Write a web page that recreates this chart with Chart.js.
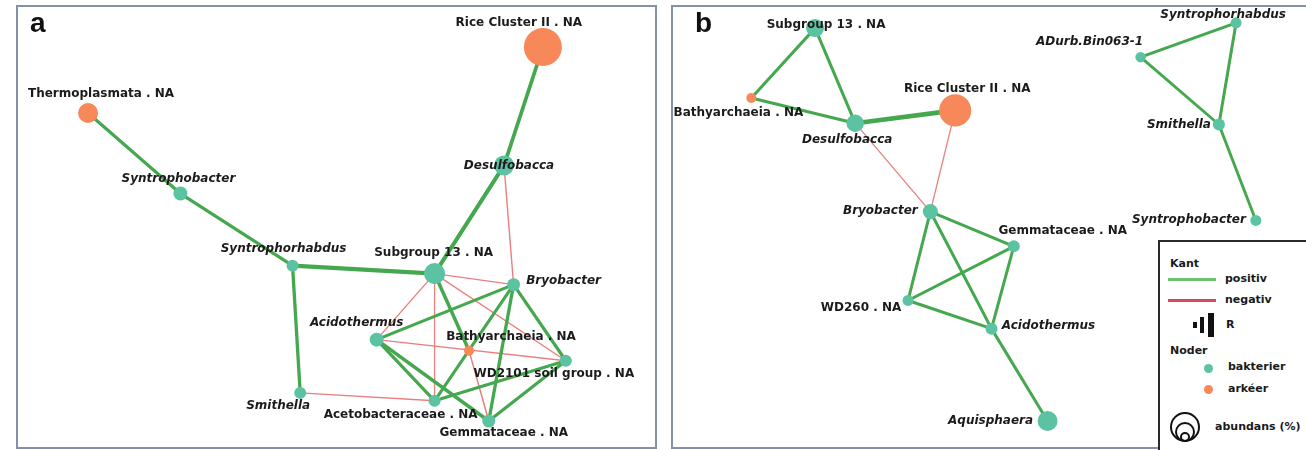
<!DOCTYPE html>
<html lang="sv">
<head>
<meta charset="utf-8">
<title>Samförekomstnätverk</title>
<script src="https://cdn.jsdelivr.net/npm/chart.js@4.4.1/dist/chart.umd.min.js"></script>
<style>
  html, body { margin:0; padding:0; background:#fff; }
  body { width:1306px; height:450px; position:relative; overflow:hidden; font-family:"DejaVu Sans", sans-serif; color:#151515; }
  .panel { position:absolute; top:5px; height:444px; box-sizing:border-box; border:2px solid #8591a8; background:#fff; }
  #panelA { left:16px; width:641px; }
  #panelB { left:671px; width:641px; }
  .plot { position:absolute; left:0; top:0; right:0; bottom:0; }
  .tag { position:absolute; top:2px; font:bold 28px/28px "Liberation Sans", Arial, sans-serif; color:#111; z-index:2; }
  #legend { position:absolute; left:1158px; top:240px; width:170px; height:220px; box-sizing:border-box; border:2px solid #2a2a2a; background:#fff; z-index:3; }
  #legend div { position:absolute; }
  #legend .txt { font-size:11px; font-weight:bold; line-height:14px; white-space:nowrap; color:#1a1a1a; }
  #legend .bar { background:#111; }
  #legend .ring { border:2.5px solid #111; border-radius:50%; box-sizing:border-box; }
  #legend .dot { border-radius:50%; }
</style>
</head>
<body>
<div class="panel" id="panelA">
  <div class="tag" style="left:12px">a</div>
  <div class="plot"><canvas id="netA"></canvas></div>
</div>
<div class="panel" id="panelB">
  <div class="tag" style="left:22px">b</div>
  <div class="plot"><canvas id="netB"></canvas></div>
</div>

<div id="legend">
  <div class="txt" style="left:10px;top:15px">Kant</div>
  <div style="left:8px;top:36px;width:48px;height:3px;background:#6cc06e"></div>
  <div class="txt" style="left:65px;top:30px">positiv</div>
  <div style="left:8px;top:57px;width:48px;height:3px;background:#d84a5a"></div>
  <div class="txt" style="left:65px;top:51px">negativ</div>
  <div class="bar" style="left:33px;top:80px;width:4px;height:6px"></div>
  <div class="bar" style="left:40px;top:75px;width:4px;height:16px"></div>
  <div class="bar" style="left:48px;top:71px;width:6px;height:24px"></div>
  <div class="txt" style="left:66px;top:76px">R</div>
  <div class="txt" style="left:10px;top:102px">Noder</div>
  <div class="dot" style="left:44px;top:122px;width:9px;height:9px;background:#5bc2a2"></div>
  <div class="txt" style="left:68px;top:118px">bakterier</div>
  <div class="dot" style="left:44px;top:143px;width:9px;height:9px;background:#f7885a"></div>
  <div class="txt" style="left:68px;top:140px">arkéer</div>
  <div class="ring" style="left:10px;top:170px;width:30px;height:30px"></div>
  <div class="ring" style="left:15px;top:180px;width:20px;height:20px"></div>
  <div class="ring" style="left:20px;top:190px;width:10px;height:10px"></div>
  <div class="txt" style="left:55px;top:178px">abundans (%)</div>
</div>

<script>
// ---------- Nätverk a ----------
const taxaA = ['Thermoplasmata . NA', 'Syntrophobacter', 'Syntrophorhabdus', 'Smithella',
  'Rice Cluster II . NA', 'Desulfobacca', 'Subgroup 13 . NA', 'Bryobacter', 'Acidothermus',
  'Bathyarchaeia . NA', 'WD2101 soil group . NA', 'Acetobacteraceae . NA', 'Gemmataceae . NA'];
const domainA = ['arkéer', 'bakterier', 'bakterier', 'bakterier', 'arkéer', 'bakterier', 'bakterier',
  'bakterier', 'bakterier', 'arkéer', 'bakterier', 'bakterier', 'bakterier'];
// layout coordinates (0–100) from the force-directed layout
const layoutXA = [11.0, 25.5, 43.1, 44.3, 82.4, 76.3, 65.4, 77.8, 56.3, 70.8, 86.0, 65.4, 73.9];
const layoutYA = [24.1, 42.4, 58.8, 87.7, 9.1, 36.0, 60.6, 63.1, 75.6, 78.1, 80.4, 89.5, 94.1];
const abundanceA = [1.44, 0.36, 0.16, 0.16, 9.0, 1.44, 1.7, 0.25, 0.36, 0.04, 0.16, 0.16, 0.25];
const edgeFromA = ['Thermoplasmata . NA', 'Syntrophobacter', 'Syntrophorhabdus', 'Syntrophorhabdus',
  'Rice Cluster II . NA', 'Desulfobacca', 'Subgroup 13 . NA', 'Bryobacter', 'Bryobacter', 'Bryobacter',
  'Bryobacter', 'Acidothermus', 'Acidothermus', 'Acetobacteraceae . NA', 'Gemmataceae . NA',
  'Desulfobacca', 'Subgroup 13 . NA', 'Subgroup 13 . NA', 'Subgroup 13 . NA', 'Subgroup 13 . NA',
  'Acidothermus', 'Bathyarchaeia . NA', 'Smithella'];
const edgeToA = ['Syntrophobacter', 'Syntrophorhabdus', 'Subgroup 13 . NA', 'Smithella',
  'Desulfobacca', 'Subgroup 13 . NA', 'Bathyarchaeia . NA', 'Acidothermus', 'WD2101 soil group . NA',
  'Gemmataceae . NA', 'Acetobacteraceae . NA', 'Acetobacteraceae . NA', 'Gemmataceae . NA',
  'WD2101 soil group . NA', 'WD2101 soil group . NA',
  'Bryobacter', 'Bryobacter', 'Acidothermus', 'Acetobacteraceae . NA', 'WD2101 soil group . NA',
  'WD2101 soil group . NA', 'Gemmataceae . NA', 'Acetobacteraceae . NA'];
const edgeRA = [0.80, 0.80, 0.90, 0.81, 0.85, 0.88, 0.84, 0.80, 0.80, 0.81, 0.79, 0.80, 0.83, 0.79, 0.80,
  -0.62, -0.61, -0.62, -0.61, -0.62, -0.61, -0.63, -0.62];

// ---------- Nätverk b ----------
const taxaB = ['Subgroup 13 . NA', 'Bathyarchaeia . NA', 'Desulfobacca', 'Rice Cluster II . NA',
  'Bryobacter', 'Gemmataceae . NA', 'WD260 . NA', 'Acidothermus', 'Aquisphaera',
  'ADurb.Bin063-1', 'Syntrophorhabdus', 'Smithella', 'Syntrophobacter'];
const domainB = ['bakterier', 'arkéer', 'bakterier', 'arkéer', 'bakterier', 'bakterier', 'bakterier',
  'bakterier', 'bakterier', 'bakterier', 'bakterier', 'bakterier', 'bakterier'];
const layoutXB = [22.3, 12.3, 28.6, 44.3, 40.4, 53.5, 36.9, 50.0, 58.8, 73.4, 88.4, 85.7, 91.5];
const layoutYB = [4.8, 20.7, 26.4, 23.5, 46.5, 54.4, 66.7, 73.1, 94.1, 11.4, 3.6, 26.7, 48.5];
const abundanceB = [1.0, 0.04, 0.9, 5.8, 0.5, 0.16, 0.09, 0.16, 1.44, 0.06, 0.09, 0.16, 0.09];
const edgeFromB = ['Subgroup 13 . NA', 'Subgroup 13 . NA', 'Bathyarchaeia . NA', 'Desulfobacca',
  'Bryobacter', 'Bryobacter', 'Bryobacter', 'WD260 . NA', 'WD260 . NA', 'Gemmataceae . NA',
  'Acidothermus', 'ADurb.Bin063-1', 'ADurb.Bin063-1', 'Syntrophorhabdus', 'Smithella',
  'Desulfobacca', 'Rice Cluster II . NA'];
const edgeToB = ['Bathyarchaeia . NA', 'Desulfobacca', 'Desulfobacca', 'Rice Cluster II . NA',
  'WD260 . NA', 'Gemmataceae . NA', 'Acidothermus', 'Gemmataceae . NA', 'Acidothermus', 'Acidothermus',
  'Aquisphaera', 'Syntrophorhabdus', 'Smithella', 'Smithella', 'Syntrophobacter',
  'Bryobacter', 'Bryobacter'];
const edgeRB = [0.78, 0.78, 0.79, 0.94, 0.78, 0.78, 0.79, 0.78, 0.79, 0.78, 0.78, 0.78, 0.77, 0.78, 0.77,
  -0.61, -0.61];

// ---------- label placement (pixel offsets from node centre) ----------
const labelOffsetsA = {
  'Thermoplasmata . NA': [13, -19], 'Syntrophobacter': [-2, -15], 'Syntrophorhabdus': [-9, -17],
  'Smithella': [-22, 13], 'Rice Cluster II . NA': [-24, -24], 'Desulfobacca': [5, 0],
  'Subgroup 13 . NA': [-1, -21], 'Bryobacter': [50, -4], 'Acidothermus': [-20, -17],
  'Bathyarchaeia . NA': [42, -14], 'WD2101 soil group . NA': [-12, 13],
  'Acetobacteraceae . NA': [-34, 14], 'Gemmataceae . NA': [15, 12]
};
const labelOffsetsB = {
  'Subgroup 13 . NA': [11, -3], 'Bathyarchaeia . NA': [-13, 15], 'Desulfobacca': [-8, 17],
  'Rice Cluster II . NA': [12, -22], 'Bryobacter': [-50, -1], 'Gemmataceae . NA': [49, -15],
  'WD260 . NA': [-47, 7], 'Acidothermus': [57, -3], 'Aquisphaera': [-57, 0],
  'ADurb.Bin063-1': [-51, -15], 'Syntrophorhabdus': [-13, -8], 'Smithella': [-40, 0],
  'Syntrophobacter': [-67, -1]
};

const COLORS = { 'bakterier': '#5bc2a2', 'arkéer': '#f7885a' };
const POS_EDGE = '#45a84f';
const NEG_EDGE = '#e8807f';
const nodeRadius = a => 4 + 5 * Math.sqrt(a);
const edgeWidth = r => 1.2 + (Math.abs(r) - 0.6) * 10;

// draws taxon names next to their nodes
const nodeLabels = {
  id: 'nodeLabels',
  afterDatasetsDraw(chart, args, opts) {
    const { ctx, scales: { x, y } } = chart;
    const nodes = chart.data.datasets[0].data;
    ctx.save();
    ctx.textAlign = 'center';
    ctx.textBaseline = 'middle';
    ctx.fillStyle = '#1b1b1b';
    nodes.forEach(p => {
      const off = opts.offsets[p.name] || [0, -14];
      const italic = !p.name.includes(' . NA');
      ctx.font = (italic ? 'italic ' : '') + 'bold 12px "DejaVu Sans", sans-serif';
      ctx.fillText(p.name, x.getPixelForValue(p.x) + off[0], y.getPixelForValue(p.y) + off[1]);
    });
    ctx.restore();
  }
};

function drawNetwork(canvasId, taxa, domain, xs, ys, abundance, from, to, r, offsets) {
  const nodeSet = {
    data: taxa.map((name, i) => ({ x: xs[i], y: ys[i], name })),
    pointRadius: abundance.map(nodeRadius),
    pointHoverRadius: abundance.map(nodeRadius),
    backgroundColor: domain.map(d => COLORS[d]),
    borderWidth: 0,
    order: 0,
    clip: false
  };
  const edgeSets = from.map((f, i) => {
    const a = taxa.indexOf(f), b = taxa.indexOf(to[i]);
    return {
      data: [{ x: xs[a], y: ys[a] }, { x: xs[b], y: ys[b] }],
      showLine: true,
      borderColor: r[i] > 0 ? POS_EDGE : NEG_EDGE,
      borderWidth: edgeWidth(r[i]),
      borderCapStyle: 'round',
      pointRadius: 0,
      pointHoverRadius: 0,
      order: 1,
      clip: false
    };
  });
  return new Chart(document.getElementById(canvasId), {
    type: 'scatter',
    data: { datasets: [nodeSet, ...edgeSets] },
    options: {
      responsive: true,
      maintainAspectRatio: false,
      animation: false,
      events: [],
      layout: { padding: 0, autoPadding: false },
      scales: {
        x: { type: 'linear', min: 0, max: 100, display: false },
        y: { type: 'linear', min: 0, max: 100, reverse: true, display: false }
      },
      plugins: {
        legend: { display: false },
        tooltip: { enabled: false },
        nodeLabels: { offsets }
      }
    },
    plugins: [nodeLabels]
  });
}

drawNetwork('netA', taxaA, domainA, layoutXA, layoutYA, abundanceA, edgeFromA, edgeToA, edgeRA, labelOffsetsA);
drawNetwork('netB', taxaB, domainB, layoutXB, layoutYB, abundanceB, edgeFromB, edgeToB, edgeRB, labelOffsetsB);
</script>
</body>
</html>
